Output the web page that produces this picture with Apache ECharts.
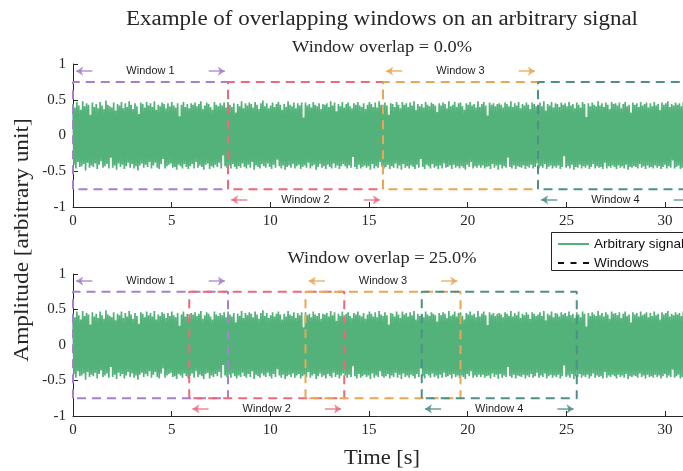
<!DOCTYPE html>
<html>
<head>
<meta charset="utf-8">
<script src="https://cdn.jsdelivr.net/npm/echarts@6/dist/echarts.min.js"></script>
<style>
  html, body { margin: 0; padding: 0; background: #fff; }
  #chart { width: 683px; height: 471px; }
</style>
</head>
<body>
<div id="chart"></div>
<script>
// Recorded signal (arbitrary unit), uniformly sampled over the duration below
const signalDuration = 31.416; // seconds
const signalValues = [
  0.44,-0.41,0.39,-0.46,0.47,-0.37,0.42,-0.44,0.36,-0.43,0.48,-0.40,0.41,-0.49,0.45,-0.38,0.43,-0.45,0.29,-0.42,
  0.46,-0.44,0.40,-0.39,0.44,-0.47,0.38,-0.41,0.47,-0.36,0.42,-0.45,0.37,-0.43,0.49,-0.40,0.43,-0.46,0.41,-0.31,
  0.39,-0.45,0.46,-0.42,0.35,-0.48,0.44,-0.39,0.42,-0.44,0.47,-0.41,0.38,-0.47,0.45,-0.43,0.40,-0.38,0.48,-0.45,
  0.43,-0.40,0.37,-0.46,0.45,-0.43,0.41,-0.49,0.30,-0.42,0.46,-0.39,0.44,-0.45,0.39,-0.41,0.47,-0.44,0.42,-0.37,
  0.45,-0.46,0.40,-0.42,0.48,-0.38,0.36,-0.45,0.43,-0.47,0.41,-0.40,0.46,-0.33,0.44,-0.46,0.38,-0.43,0.45,-0.41,
  0.41,-0.39,0.47,-0.45,0.42,-0.44,0.39,-0.48,0.45,-0.41,0.27,-0.43,0.43,-0.46,0.47,-0.40,0.40,-0.44,0.44,-0.47,
  0.38,-0.43,0.45,-0.40,0.43,-0.46,0.46,-0.37,0.41,-0.45,0.44,-0.42,0.48,-0.44,0.37,-0.48,0.42,-0.41,0.46,-0.39,
  0.44,-0.47,0.40,-0.43,0.36,-0.45,0.47,-0.41,0.43,-0.44,0.41,-0.38,0.45,-0.46,0.42,-0.28,0.46,-0.43,0.39,-0.45,
  0.47,-0.42,0.43,-0.46,0.40,-0.40,0.45,-0.44,0.32,-0.47,0.44,-0.43,0.41,-0.45,0.48,-0.39,0.38,-0.44,0.45,-0.46,
  0.42,-0.41,0.46,-0.45,0.44,-0.37,0.39,-0.48,0.47,-0.42,0.43,-0.44,0.37,-0.46,0.45,-0.40,0.49,-0.43,0.41,-0.45,
  0.45,-0.39,0.38,-0.44,0.42,-0.47,0.46,-0.41,0.40,-0.45,0.44,-0.34,0.47,-0.43,0.43,-0.46,0.36,-0.42,0.44,-0.48,
  0.40,-0.44,0.48,-0.42,0.43,-0.45,0.41,-0.40,0.46,-0.46,0.38,-0.43,0.45,-0.41,0.42,-0.47,0.46,-0.44,0.25,-0.42,
  0.46,-0.45,0.42,-0.38,0.44,-0.46,0.39,-0.43,0.47,-0.41,0.43,-0.48,0.41,-0.44,0.45,-0.40,0.37,-0.45,0.44,-0.43,
  0.43,-0.47,0.45,-0.41,0.40,-0.44,0.48,-0.46,0.42,-0.39,0.46,-0.45,0.34,-0.42,0.44,-0.47,0.41,-0.43,0.47,-0.40,
  0.39,-0.43,0.44,-0.46,0.46,-0.42,0.41,-0.45,0.38,-0.30,0.45,-0.44,0.43,-0.47,0.47,-0.41,0.42,-0.46,0.40,-0.44,
  0.45,-0.42,0.37,-0.45,0.43,-0.43,0.47,-0.48,0.44,-0.40,0.40,-0.46,0.46,-0.43,0.39,-0.45,0.48,-0.37,0.43,-0.44,
  0.41,-0.46,0.46,-0.44,0.42,-0.41,0.29,-0.47,0.45,-0.43,0.44,-0.45,0.40,-0.39,0.47,-0.46,0.43,-0.42,0.38,-0.48,
  0.47,-0.40,0.43,-0.45,0.45,-0.43,0.40,-0.46,0.46,-0.42,0.42,-0.44,0.48,-0.47,0.36,-0.41,0.44,-0.45,0.41,-0.33,
  0.44,-0.44,0.39,-0.47,0.47,-0.41,0.43,-0.43,0.41,-0.46,0.46,-0.40,0.44,-0.45,0.42,-0.43,0.33,-0.47,0.45,-0.42,
  0.42,-0.46,0.46,-0.39,0.44,-0.45,0.38,-0.44,0.48,-0.42,0.41,-0.47,0.43,-0.41,0.47,-0.45,0.40,-0.43,0.45,-0.46,
  0.46,-0.43,0.41,-0.45,0.36,-0.48,0.45,-0.41,0.43,-0.44,0.47,-0.37,0.42,-0.46,0.44,-0.43,0.39,-0.45,0.48,-0.42,
  0.40,-0.45,0.44,-0.42,0.47,-0.46,0.42,-0.44,0.28,-0.43,0.46,-0.47,0.43,-0.40,0.45,-0.45,0.41,-0.42,0.44,-0.48,
  0.45,-0.41,0.43,-0.46,0.39,-0.43,0.46,-0.45,0.44,-0.31,0.41,-0.44,0.48,-0.46,0.40,-0.42,0.45,-0.47,0.42,-0.43,
  0.47,-0.44,0.38,-0.45,0.44,-0.42,0.42,-0.47,0.46,-0.43,0.43,-0.45,0.37,-0.41,0.46,-0.46,0.44,-0.44,0.41,-0.39,
  0.43,-0.46,0.46,-0.43,0.41,-0.45,0.48,-0.40,0.35,-0.47,0.44,-0.44,0.42,-0.42,0.47,-0.46,0.39,-0.43,0.45,-0.45,
  0.44,-0.42,0.40,-0.47,0.46,-0.44,0.43,-0.29,0.45,-0.45,0.41,-0.43,0.47,-0.46,0.42,-0.41,0.44,-0.48,0.38,-0.44,
  0.46,-0.45,0.43,-0.41,0.39,-0.46,0.47,-0.43,0.44,-0.45,0.26,-0.42,0.45,-0.47,0.41,-0.44,0.46,-0.40,0.43,-0.46,
  0.41,-0.43,0.48,-0.45,0.42,-0.44,0.45,-0.47,0.40,-0.38,0.46,-0.46,0.43,-0.43,0.37,-0.45,0.47,-0.42,0.44,-0.44,
  0.45,-0.47,0.42,-0.42,0.46,-0.45,0.38,-0.43,0.44,-0.46,0.47,-0.41,0.41,-0.48,0.43,-0.44,0.32,-0.45,0.46,-0.43,
  0.43,-0.44,0.45,-0.46,0.40,-0.40,0.47,-0.45,0.42,-0.43,0.44,-0.47,0.46,-0.42,0.39,-0.45,0.45,-0.44,0.41,-0.46,
  0.47,-0.42,0.42,-0.45,0.44,-0.43,0.36,-0.47,0.46,-0.44,0.43,-0.41,0.45,-0.46,0.48,-0.43,0.40,-0.45,0.44,-0.35,
  0.42,-0.46,0.46,-0.44,0.43,-0.42,0.45,-0.47,0.41,-0.45,0.47,-0.43,0.39,-0.46,0.44,-0.44,0.46,-0.41,0.43,-0.45
];

// Analysis windows (seconds) for each panel
const windowLength = 7.854;
const windowHalfHeight = 0.75;
const windowStartsNoOverlap = [0, 7.854, 15.708, 23.562];
const windowStartsOverlap25 = [0, 5.890, 11.781, 17.671];
const windowNames = ['Window 1', 'Window 2', 'Window 3', 'Window 4'];
const windowLabelLevels = [0.9, -0.9, 0.9, -0.9];
const panelTitles = ['Window overlap = 0.0%', 'Window overlap = 25.0%'];
const xTickValues = [0, 5, 10, 15, 20, 25, 30];

const windowColors = ['#a87fcf', '#ee6878', '#eba653', '#4f8f89'];
const arrowColors = ['rgba(168,127,207,0.85)', 'rgba(238,104,120,0.8)', 'rgba(235,166,83,0.85)', 'rgba(79,143,137,0.85)'];
const signalColor = '#52b27a';
const axisColor = '#262626';
const serif = '"Liberation Serif", "Times New Roman", serif';
const sans = '"Liberation Sans", Arial, sans-serif';

const dt = signalDuration / signalValues.length;
const signalPoints = signalValues.map((v, i) => [i * dt, v]);

// the time axis runs a little past the right edge of the canvas
const grids = [
  { left: 73, top: 64, width: 620, height: 143, containLabel: false, outerBoundsMode: 'none' },
  { left: 73, top: 274, width: 620, height: 142, containLabel: false, outerBoundsMode: 'none' }
];

function xAxisFor(gi) {
  return {
    type: 'value', gridIndex: gi, min: 0, max: signalDuration, interval: 5,
    axisLine: { show: true, onZero: false, lineStyle: { color: axisColor, width: 1 } },
    axisTick: { show: true, inside: true, length: 5, lineStyle: { color: axisColor } },
    axisLabel: {
      color: axisColor, fontFamily: serif, fontSize: 15, margin: 7,
      showMaxLabel: false, hideOverlap: false,
      formatter: v => (xTickValues.indexOf(v) >= 0 ? String(v) : '')
    },
    splitLine: { show: false }
  };
}
function yAxisFor(gi) {
  return {
    type: 'value', gridIndex: gi, min: -1, max: 1, interval: 0.5,
    axisLine: { show: true, lineStyle: { color: axisColor, width: 1 } },
    axisTick: { show: true, inside: true, length: 5, lineStyle: { color: axisColor } },
    axisLabel: { color: axisColor, fontFamily: serif, fontSize: 15, margin: 7 },
    splitLine: { show: false }
  };
}

const series = [];
[windowStartsNoOverlap, windowStartsOverlap25].forEach((starts, gi) => {
  series.push({
    name: 'Arbitrary signal', type: 'line', xAxisIndex: gi, yAxisIndex: gi,
    data: signalPoints, showSymbol: false, symbol: 'none', sampling: null,
    lineStyle: { color: signalColor, width: 1.7 }, itemStyle: { color: signalColor },
    z: 2, animation: false, silent: true
  });
  starts.forEach((x0, k) => {
    const x1 = x0 + windowLength;
    const h = windowHalfHeight;
    const yl = windowLabelLevels[k];
    series.push({
      name: 'win-' + gi + '-' + k, type: 'line', xAxisIndex: gi, yAxisIndex: gi,
      data: [[x0, -h], [x0, h], [x1, h], [x1, -h], [x0, -h]],
      showSymbol: false, symbol: 'none',
      lineStyle: { color: windowColors[k], width: 2, type: [9, 6] },
      z: 3 + k, animation: false, silent: true,
      markLine: {
        silent: true, animation: false, symbol: ['none', 'arrow'], symbolSize: [7, 7],
        label: { show: false },
        lineStyle: { color: arrowColors[k], width: 1.5, type: 'solid' },
        data: [
          [{ coord: [x0 + 0.98, yl] }, { coord: [x0 + 0.16, yl] }],
          [{ coord: [x1 - 0.98, yl] }, { coord: [x1 - 0.16, yl] }]
        ]
      },
      markPoint: {
        silent: true, animation: false, symbol: 'rect', symbolSize: 1,
        itemStyle: { color: 'rgba(0,0,0,0)' },
        label: {
          show: true, position: 'inside', formatter: windowNames[k],
          color: '#1e1e1e', fontFamily: sans, fontSize: 11
        },
        data: [{ coord: [(x0 + x1) / 2, yl] }]
      }
    });
  });
});
// legend entry for the window outlines
series.push({
  name: 'Windows', type: 'line', data: [], symbol: 'none',
  lineStyle: { color: '#111', width: 2, type: [6, 6.5] }, itemStyle: { color: '#111' }
});

const chart = echarts.init(document.getElementById('chart'), null, { renderer: 'canvas' });
chart.setOption({
  animation: false,
  backgroundColor: '#fff',
  grid: grids,
  xAxis: [xAxisFor(0), xAxisFor(1)],
  yAxis: [yAxisFor(0), yAxisFor(1)],
  legend: {
    data: ['Arbitrary signal', 'Windows'], orient: 'vertical', left: 551, top: 232,
    padding: [5, 6, 3, 6], itemGap: 5, itemWidth: 31, itemHeight: 12,
    borderWidth: 0, backgroundColor: '#fff', borderRadius: 0,
    selectedMode: false,
    itemStyle: { opacity: 0 },
    textStyle: { fontFamily: sans, fontSize: 13.5, lineHeight: 12, color: '#111' }
  },
  graphic: [
    { type: 'text', x: 382, y: 20, scaleX: 1.148, style: { text: 'Example of overlapping windows on an arbitrary signal', font: '20px ' + serif, fill: axisColor, textAlign: 'center', textVerticalAlign: 'middle' } },
    { type: 'text', x: 382, y: 48, scaleX: 1.08, style: { text: panelTitles[0], font: '17px ' + serif, fill: axisColor, textAlign: 'center', textVerticalAlign: 'middle' } },
    { type: 'text', x: 382, y: 259, scaleX: 1.08, style: { text: panelTitles[1], font: '17px ' + serif, fill: axisColor, textAlign: 'center', textVerticalAlign: 'middle' } },
    { type: 'text', x: 22, y: 240, rotation: Math.PI / 2, scaleX: 1.11, style: { text: 'Amplitude [arbitrary unit]', font: '21px ' + serif, fill: axisColor, textAlign: 'center', textVerticalAlign: 'middle' } },
    { type: 'text', x: 382, y: 458, scaleX: 1.07, style: { text: 'Time [s]', font: '21px ' + serif, fill: axisColor, textAlign: 'center', textVerticalAlign: 'middle' } },
    // legend frame, continuing past the right edge of the canvas
    { type: 'rect', z: 100, silent: true, shape: { x: 551.5, y: 232.5, width: 200, height: 38 }, style: { fill: 'none', stroke: axisColor, lineWidth: 1 } }
  ],
  series: series
});
</script>
</body>
</html>
